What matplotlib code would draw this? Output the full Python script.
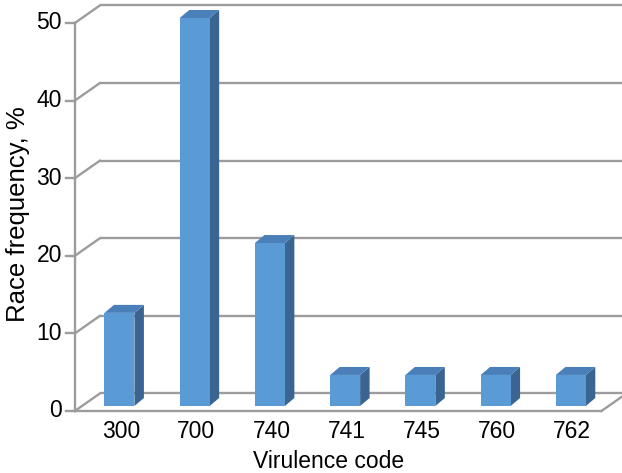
import matplotlib
matplotlib.use("Agg")
import matplotlib.pyplot as plt
from matplotlib.patches import Polygon

# data
codes = ["300", "700", "740", "741", "745", "760", "762"]
freq = [12, 50, 21, 4, 4, 4, 4]
yticks = [0, 10, 20, 30, 40, 50]
xlabel = "Virulence code"
ylabel = "Race frequency, %"

FRONT = "#5B9BD5"
SIDE = "#3A6592"
TOP = "#4A7FB9"
GRID = "#9C9C9C"

plt.rcParams["font.family"] = ["Liberation Sans", "DejaVu Sans"]

fig = plt.figure(figsize=(6.22, 4.73), dpi=100)
ax = fig.add_axes([0, 0, 1, 1])
ax.set_xlim(-1.495, 6.773)
ax.set_ylim(-7.99, 52.96)
ax.axis("off")

# 3d offsets (data units)
wall_dx, wall_dy = 0.332, 2.255     # full depth of the floor / walls
bar_fx, bar_fy = 0.093, 0.644       # where the bar front face sits
bar_dx, bar_dy = 0.126, 1.03        # depth of each bar
bar_w = 0.398
x0, x1 = -0.5, len(codes) - 0.5

# back wall gridlines + connectors
for v in yticks:
    ax.plot([x0 + wall_dx, x1 + 2], [v + wall_dy, v + wall_dy],
            color=GRID, lw=1.7, solid_capstyle="butt", zorder=1)
    ax.plot([x0, x0 + wall_dx], [v, v + wall_dy], color=GRID, lw=1.7, zorder=1)

# floor front edge and right edge
ax.plot([x0, x1], [0, 0], color=GRID, lw=1.7, zorder=1)
ax.plot([x1, x1 + wall_dx], [0, wall_dy], color=GRID, lw=1.7, zorder=1)

# vertical axis + ticks
ax.plot([x0, x0], [0, yticks[-1]], color=GRID, lw=1.7, zorder=1)
for v in yticks:
    ax.plot([x0 - 0.12, x0], [v, v], color=GRID, lw=1.7, zorder=1)
    ax.text(x0 - 0.17, v, str(v), ha="right", va="center", fontsize=16.5)

# bars
xs = [i + bar_fx for i in range(len(codes))]
ax.bar(xs, freq, width=bar_w, bottom=bar_fy, color=FRONT, zorder=3)
for x, v in zip(xs, freq):
    xl, xr = x - bar_w / 2, x + bar_w / 2
    yb, yt = bar_fy, bar_fy + v
    ax.add_patch(Polygon([(xr, yb), (xr + bar_dx, yb + bar_dy),
                          (xr + bar_dx, yt + bar_dy), (xr, yt)],
                         closed=True, facecolor=SIDE, lw=0, zorder=2))
    ax.add_patch(Polygon([(xl, yt), (xr, yt), (xr + bar_dx, yt + bar_dy),
                          (xl + bar_dx, yt + bar_dy)],
                         closed=True, facecolor=TOP, lw=0, zorder=2))

# category labels
for x, c in zip(xs, codes):
    ax.text(x + 0.02, -3.48, c, ha="center", va="baseline", fontsize=16.5)

ax.text(2.874, -7.35, xlabel, ha="center", va="baseline", fontsize=16.5)
ax.text(-1.256, 25.4, ylabel, ha="center", va="center", rotation=90, fontsize=18.5)

fig.savefig("out.png", dpi=100, facecolor="white")
